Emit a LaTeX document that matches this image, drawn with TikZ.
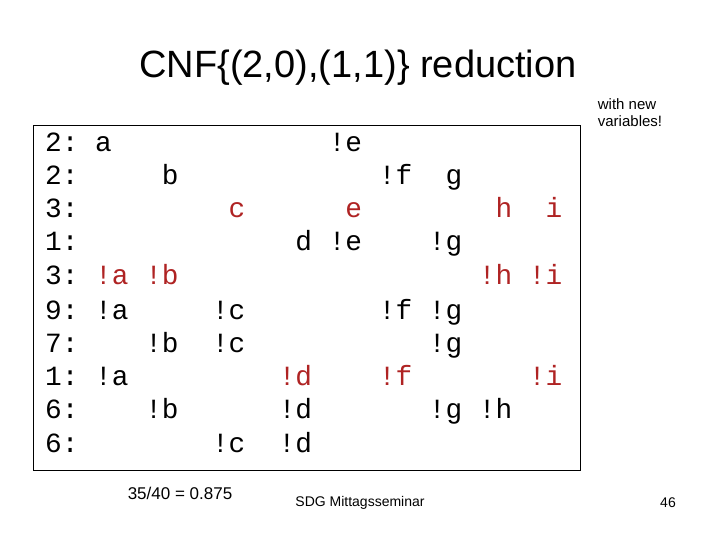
\documentclass[tikz,border=0pt]{standalone}
\usepackage{fontspec}
\setmainfont{Liberation Sans}
\setmonofont{Liberation Mono}
\definecolor{rd}{RGB}{175,35,35}
\newcommand{\R}[1]{\textcolor{rd}{#1}}
\begin{document}
\begin{tikzpicture}[x=1pt,y=-1pt,
  row/.style={anchor=base west,inner sep=0pt,font=\ttfamily\fontsize{27.8}{30}\selectfont}]
\useasboundingbox (0,0) rectangle (720,540);
\node[font=\fontsize{38}{44}\selectfont] (title) at (358,68) {CNF\{(2,0),(1,1)\} reduction};
\draw[line width=0.8pt] (33,125) rectangle (580,470);
\node[row] (r1) at (45,152) {2:~a~~~~~~~~~~~~~!e};
\node[row] (r2) at (45,185) {2:~~~~~b~~~~~~~~~~~~!f~~g};
\node[row] (r3) at (45,218) {3:~~~~~~~~~\R{c}~~~~~~\R{e}~~~~~~~~\R{h}~~\R{i}};
\node[row] (r4) at (45,251) {1:~~~~~~~~~~~~~d~!e~~~~!g};
\node[row] (r5) at (45,284) {3:~\R{!a}~\R{!b}~~~~~~~~~~~~~~~~~~\R{!h}~\R{!i}};
\node[row] (r6) at (45,319) {9:~!a~~~~~!c~~~~~~~~!f~!g};
\node[row] (r7) at (45,352) {7:~~~~!b~~!c~~~~~~~~~~~!g};
\node[row] (r8) at (45,385) {1:~!a~~~~~~~~~\R{!d}~~~~\R{!f}~~~~~~~\R{!i}};
\node[row] (r9) at (45,418) {6:~~~~!b~~~~~~!d~~~~~~~!g~!h};
\node[row] (r10) at (45,452) {6:~~~~~~~~!c~~!d};
\node[font=\fontsize{17}{19}\selectfont] (score) at (180,493) {35/40 = 0.875};
\node[font=\fontsize{14}{16}\selectfont] (sdg) at (360,503) {SDG Mittagsseminar};
\node[font=\fontsize{14}{16}\selectfont] (pg) at (668,503) {46};
\node[font=\fontsize{15}{17}\selectfont,align=left] (note) at (630,113) {with new\\variables!};
\end{tikzpicture}
\end{document}
